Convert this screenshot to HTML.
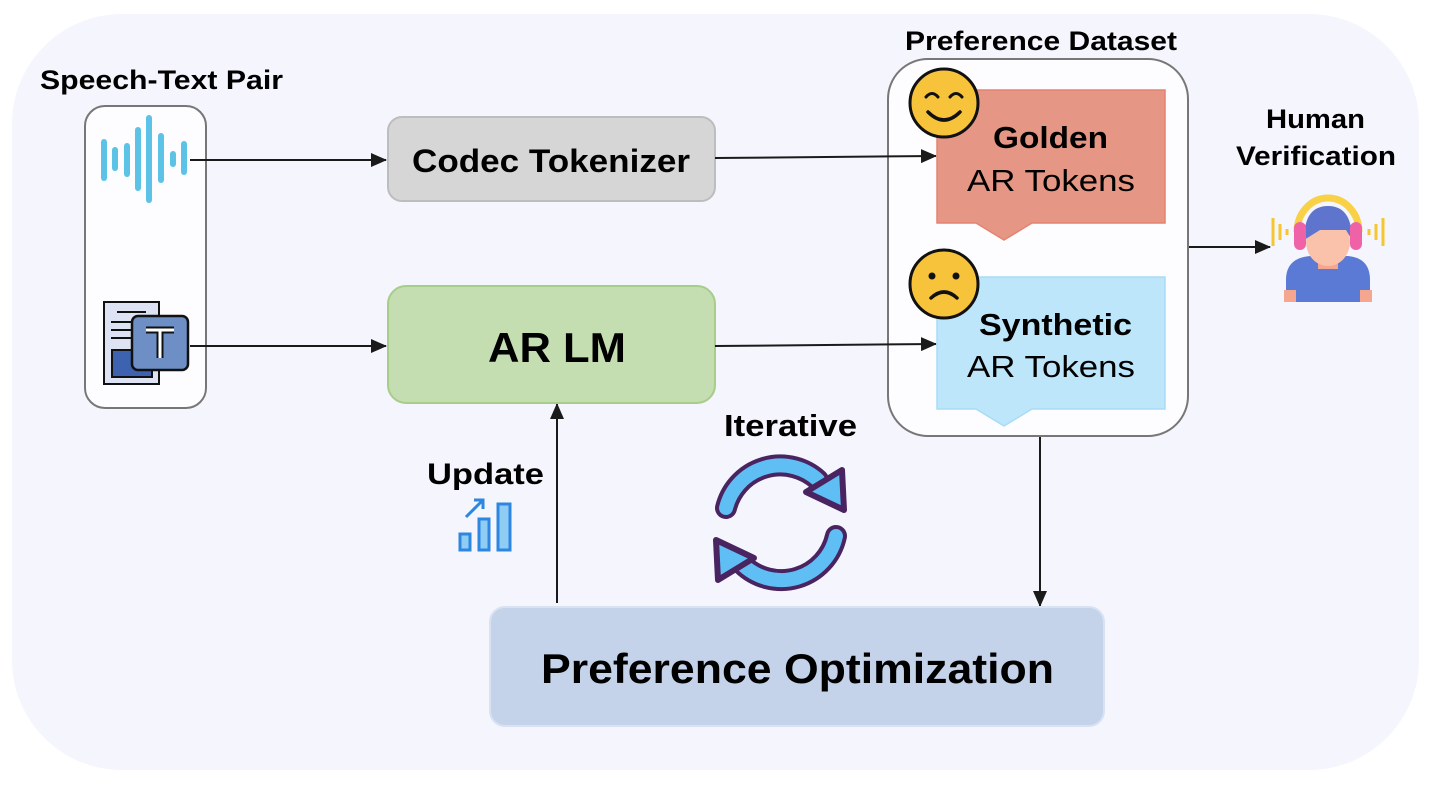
<!DOCTYPE html>
<html><head><meta charset="utf-8"><style>
html,body{margin:0;padding:0;background:#fff;}
svg{display:block;}
text{font-family:"Liberation Sans",Arial,sans-serif;fill:#000;}
.b{font-weight:bold;}
</style></head><body>
<svg width="1434" height="786" viewBox="0 0 1434 786" xmlns="http://www.w3.org/2000/svg">
<defs>
<marker id="ah2" markerWidth="16" markerHeight="14" refX="15" refY="7" orient="auto" markerUnits="userSpaceOnUse">
<path d="M0,0 L16,7 L0,14 z" fill="#1a1a1a"/></marker>
</defs>
<rect x="12" y="14" width="1407" height="756" rx="110" fill="#f4f5fd"/>

<!-- left box -->
<text x="40" y="89" class="b" font-size="27" textLength="243" lengthAdjust="spacingAndGlyphs">Speech-Text Pair</text>
<rect x="85" y="106" width="121" height="302" rx="20" fill="#fdfdff" stroke="#777" stroke-width="2"/>
<g stroke="#5cc2e6" stroke-width="6" stroke-linecap="round">
<line x1="104" y1="142" x2="104" y2="178"/>
<line x1="115" y1="150" x2="115" y2="168"/>
<line x1="127" y1="146" x2="127" y2="174"/>
<line x1="138" y1="130" x2="138" y2="188"/>
<line x1="149" y1="118" x2="149" y2="200"/>
<line x1="161" y1="136" x2="161" y2="180"/>
<line x1="173" y1="154" x2="173" y2="164"/>
<line x1="184" y1="144" x2="184" y2="172"/>
</g>
<!-- doc icon -->
<rect x="104" y="302" width="55" height="82" fill="#dde3f2" stroke="#111" stroke-width="2"/>
<rect x="112" y="350" width="40" height="27" fill="#3d62b0" stroke="#111" stroke-width="2"/>
<g stroke="#111" stroke-width="2"><line x1="117" y1="312" x2="146" y2="312"/><line x1="111" y1="322" x2="140" y2="322"/><line x1="111" y1="330" x2="140" y2="330"/><line x1="111" y1="338" x2="140" y2="338"/></g>
<rect x="132" y="316" width="56" height="54" rx="6" fill="#6d8fc6" stroke="#111" stroke-width="2.5"/>
<path d="M146,330 h28 M160,330 v28" stroke="#111" stroke-width="7"/>
<path d="M146,330 h28 M160,330 v28" stroke="#fff" stroke-width="3"/>

<!-- arrows -->
<line x1="190" y1="160" x2="386" y2="160" stroke="#1a1a1a" stroke-width="2" marker-end="url(#ah2)"/>
<line x1="190" y1="346" x2="386" y2="346" stroke="#1a1a1a" stroke-width="2" marker-end="url(#ah2)"/>
<line x1="1188" y1="247" x2="1270" y2="247" stroke="#1a1a1a" stroke-width="2" marker-end="url(#ah2)"/>
<line x1="1040" y1="436" x2="1040" y2="606" stroke="#1a1a1a" stroke-width="2" marker-end="url(#ah2)"/>
<line x1="557" y1="603" x2="557" y2="404" stroke="#1a1a1a" stroke-width="2" marker-end="url(#ah2)"/>

<!-- boxes -->
<rect x="388" y="117" width="327" height="84" rx="14" fill="#d6d6d6" stroke="#bdbdbd" stroke-width="2"/>
<text x="412" y="172" class="b" font-size="32" textLength="278" lengthAdjust="spacingAndGlyphs">Codec Tokenizer</text>
<rect x="388" y="286" width="327" height="117" rx="18" fill="#c4ddb1" stroke="#a6cd8a" stroke-width="2"/>
<text x="488" y="362" class="b" font-size="42" textLength="138" lengthAdjust="spacingAndGlyphs">AR LM</text>

<!-- preference dataset -->
<text x="905" y="50" class="b" font-size="27" textLength="272" lengthAdjust="spacingAndGlyphs">Preference Dataset</text>
<rect x="888" y="59" width="300" height="377" rx="40" fill="#fdfdff" stroke="#777" stroke-width="2"/>
<line x1="715" y1="158" x2="936" y2="156" stroke="#1a1a1a" stroke-width="2" marker-end="url(#ah2)"/>
<line x1="715" y1="346" x2="936" y2="344" stroke="#1a1a1a" stroke-width="2" marker-end="url(#ah2)"/>
<path d="M937,90 H1165 V223 H1032 L1004,240 L976,223 H937 Z" fill="#e59684" stroke="#e48470" stroke-width="1.5"/>
<text x="993" y="148" class="b" font-size="31" textLength="115" lengthAdjust="spacingAndGlyphs">Golden</text>
<text x="967" y="191" font-size="31" textLength="168" lengthAdjust="spacingAndGlyphs">AR Tokens</text>
<path d="M937,277 H1165 V409 H1032 L1004,426 L976,409 H937 Z" fill="#bde6fb" stroke="#a8dcf7" stroke-width="1.5"/>
<text x="979" y="335" class="b" font-size="31" textLength="153" lengthAdjust="spacingAndGlyphs">Synthetic</text>
<text x="967" y="377" font-size="31" textLength="168" lengthAdjust="spacingAndGlyphs">AR Tokens</text>
<!-- smileys -->
<circle cx="944" cy="103" r="34" fill="#f7c33a" stroke="#111" stroke-width="3"/>
<path d="M926,97 q6,-7 12,0 M950,97 q6,-7 12,0" fill="none" stroke="#111" stroke-width="3" stroke-linecap="round"/>
<path d="M928,112 q16,16 32,0" fill="none" stroke="#111" stroke-width="3.5" stroke-linecap="round"/>
<circle cx="944" cy="284" r="34" fill="#f7c33a" stroke="#111" stroke-width="3"/>
<circle cx="932" cy="276" r="3.5" fill="#111"/><circle cx="956" cy="276" r="3.5" fill="#111"/>
<path d="M931,298 q13,-12 26,0" fill="none" stroke="#111" stroke-width="3.5" stroke-linecap="round"/>

<!-- human -->
<text x="1266" y="128" class="b" font-size="27" textLength="99" lengthAdjust="spacingAndGlyphs">Human</text>
<text x="1236" y="165" class="b" font-size="27" textLength="160" lengthAdjust="spacingAndGlyphs">Verification</text>
<path d="M1297,232 a31,34 0 0 1 62,0" fill="none" stroke="#f9d146" stroke-width="7"/>
<path d="M1286,302 v-22 q0,-22 24,-24 h38 q22,2 22,24 v22 z" fill="#5b7ad6"/>
<rect x="1284" y="290" width="12" height="12" fill="#f4a78e"/><rect x="1360" y="290" width="12" height="12" fill="#f4a78e"/>
<rect x="1318" y="255" width="20" height="14" fill="#f4a78e"/>
<ellipse cx="1328" cy="242" rx="22" ry="24" fill="#fbc2ab"/>
<path d="M1304,240 q0,-34 24,-34 q24,0 24,34 l-6,-10 h-26 z" fill="#5f74cc"/>
<rect x="1294" y="222" width="12" height="28" rx="6" fill="#f062a8"/><rect x="1350" y="222" width="12" height="28" rx="6" fill="#f062a8"/>
<g stroke="#f6c630" stroke-width="3"><line x1="1273" y1="218" x2="1273" y2="246"/><line x1="1280" y1="224" x2="1280" y2="240"/><line x1="1287" y1="229" x2="1287" y2="235"/>
<line x1="1383" y1="218" x2="1383" y2="246"/><line x1="1376" y1="224" x2="1376" y2="240"/><line x1="1369" y1="229" x2="1369" y2="235"/></g>

<!-- update -->
<text x="427" y="484" class="b" font-size="30" textLength="117" lengthAdjust="spacingAndGlyphs">Update</text>
<g fill="#8fcdf5" stroke="#2f86e0" stroke-width="3">
<rect x="460" y="534" width="10" height="16"/><rect x="479" y="519" width="10" height="31"/><rect x="498" y="504" width="12" height="46"/></g>
<path d="M466,517 l16,-16 M474,500 h9 v9" fill="none" stroke="#2f86e0" stroke-width="3"/>

<!-- iterative -->
<text x="724" y="436" class="b" font-size="31" textLength="133" lengthAdjust="spacingAndGlyphs">Iterative</text>
<g fill="none" stroke-linecap="round">
<path d="M726,508 A56,56 0 0 1 818,480" stroke="#4a2460" stroke-width="22"/>
<path d="M726,508 A56,56 0 0 1 818,480" stroke="#5fbff5" stroke-width="14"/>
<path d="M836,536 A56,56 0 0 1 742,564" stroke="#4a2460" stroke-width="22"/>
<path d="M836,536 A56,56 0 0 1 742,564" stroke="#5fbff5" stroke-width="14"/>
</g>
<path d="M806,492 L842,470 L844,510 Z" fill="#5fbff5" stroke="#4a2460" stroke-width="6" stroke-linejoin="round"/>
<path d="M754,558 L718,580 L716,540 Z" fill="#5fbff5" stroke="#4a2460" stroke-width="6" stroke-linejoin="round"/>

<!-- pref opt -->
<rect x="490" y="607" width="614" height="119" rx="15" fill="#c4d3ea" stroke="#d8e2f3" stroke-width="2"/>
<text x="541" y="683" class="b" font-size="42" textLength="513" lengthAdjust="spacingAndGlyphs">Preference Optimization</text>
</svg>
</body></html>
